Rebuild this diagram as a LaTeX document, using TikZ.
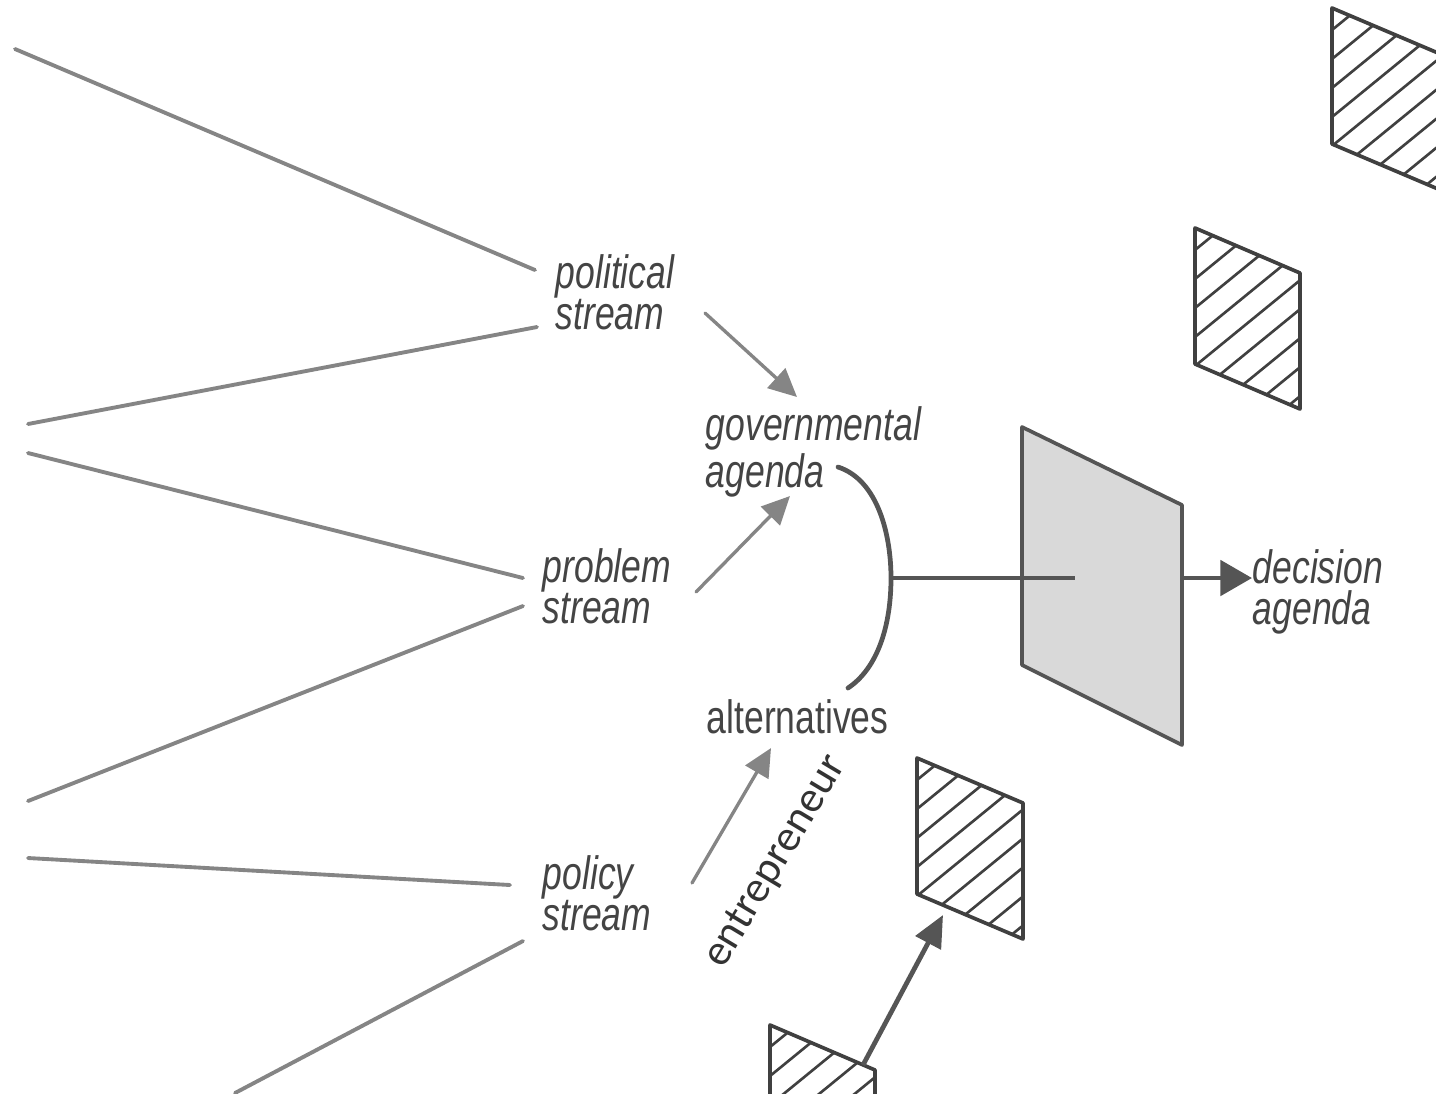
\documentclass[tikz,border=0pt]{standalone}
\usepackage{fontspec}
\setmainfont{Liberation Sans}
\newfontfamily\streamfont[FakeStretch=0.76]{Liberation Sans}
\newfontfamily\entfont{Carlito}
\usetikzlibrary{arrows.meta,calc}
\definecolor{fanGray}{HTML}{858585}
\definecolor{darkGray}{HTML}{555555}
\definecolor{panelGray}{HTML}{D9D9D9}
\definecolor{textGray}{HTML}{444444}

\begin{document}
\begin{tikzpicture}[x=0.01cm,y=-0.01cm,
    fan/.style={draw=fanGray,line width=1.1pt,line cap=round},
    feed/.style={fan,line width=0.95pt,-{Triangle[length=8pt,width=7.5pt]}},
    heavy/.style={draw=darkGray,line width=1.35pt},
    lbl/.style={inner sep=0pt,anchor=north west,align=left,text=textGray,
      font=\streamfont\fontsize{13.3}{11.6}\selectfont\itshape},
    hatch/.style={line width=0.75pt,draw=black!75},
    frame/.style={line width=1.05pt,draw=black!75,line join=round}]
  \useasboundingbox (0,0) rectangle (1436,1093);

  % stream labels
  \node[lbl] (polit) at (555,254) {political\\stream};
  \node[lbl] (probl) at (542,548) {problem\\stream};
  \node[lbl] (polic) at (542,855) {policy\\stream};
  \node[lbl] (govag) at (705,406) {governmental\\agenda};
  \node[lbl,font=\streamfont\fontsize{13.3}{11.6}\selectfont] (alter) at (706,699) {alternatives};
  \node[lbl] (decag) at (1252,549) {decision\\agenda};
  \node[inner sep=0pt,rotate=59,text=black!80,
    font=\entfont\fontsize{12.5}{14}\selectfont] (entre) at (776,862) {entrepreneur};

  % fan of lines into each stream
  \coordinate (polA) at (15,49);   \coordinate (polB) at (535,270);
  \coordinate (polC) at (28,424);  \coordinate (polD) at (537,327);
  \coordinate (proA) at (28,453);  \coordinate (proB) at (523,578);
  \coordinate (proC) at (28,801);  \coordinate (proD) at (523,606);
  \coordinate (plcA) at (28,858);  \coordinate (plcB) at (510,885);
  \coordinate (plcC) at (235,1093); \coordinate (plcD) at (523,941);
  \foreach \a/\b in {polA/polB,polC/polD,proA/proB,proC/proD,plcA/plcB,plcC/plcD}
    \draw[fan] (\a) -- (\b);

  % arrows into the agendas
  \coordinate (polOut) at (705,313);  \coordinate (govIn1) at (797,397);
  \coordinate (proOut) at (696,592);  \coordinate (govIn2) at (790,496);
  \coordinate (plcOut) at (692,883);  \coordinate (altIn) at (771,748);
  \draw[feed] (polOut) -- (govIn1);
  \draw[feed] (proOut) -- (govIn2);
  \draw[feed] (plcOut) -- (altIn);

  % hatched windows
  \foreach \px/\py/\pw in {1332/8/106, 1195/228/105, 917/758/106, 770/1025/105} {
    \begin{scope}
      \clip (\px,\py) -- ++(\pw,45) -- ++(0,136) -- ++(-\pw,-45) -- cycle;
      \foreach \k in {0,...,11}
        \draw[hatch] (\px,\py+22+\k*29) -- ++(240,-196);
    \end{scope}
    \draw[frame] (\px,\py) -- ++(\pw,45) -- ++(0,136) -- ++(-\pw,-45) -- cycle;
  }

  % open window
  \draw[frame,draw=darkGray,fill=panelGray] (1022,427) -- (1182,505) -- (1182,745) -- (1022,665) -- cycle;

  % coupling bracket
  \coordinate (brTop) at (838,467);
  \coordinate (brMid) at (891,578);
  \coordinate (brBot) at (848,688);
  \coordinate (winIn) at (1075,578);
  \draw[heavy,line cap=round] (brTop) .. controls (878,480) and (891,535) .. (brMid)
    .. controls (891,625) and (878,668) .. (brBot);
  \draw[heavy] (brMid) -- (winIn);

  % out of the open window
  \coordinate (winOut) at (1182,578);
  \draw[heavy,-{Triangle[length=9pt,width=10pt]}] (winOut) -- (decag.west |- winOut);

  % next window
  \coordinate (lowOut) at (863,1065);
  \coordinate (lowIn) at (943,915);
  \draw[heavy,-{Triangle[length=9pt,width=8pt]}] (lowOut) -- (lowIn);
\end{tikzpicture}
\end{document}
